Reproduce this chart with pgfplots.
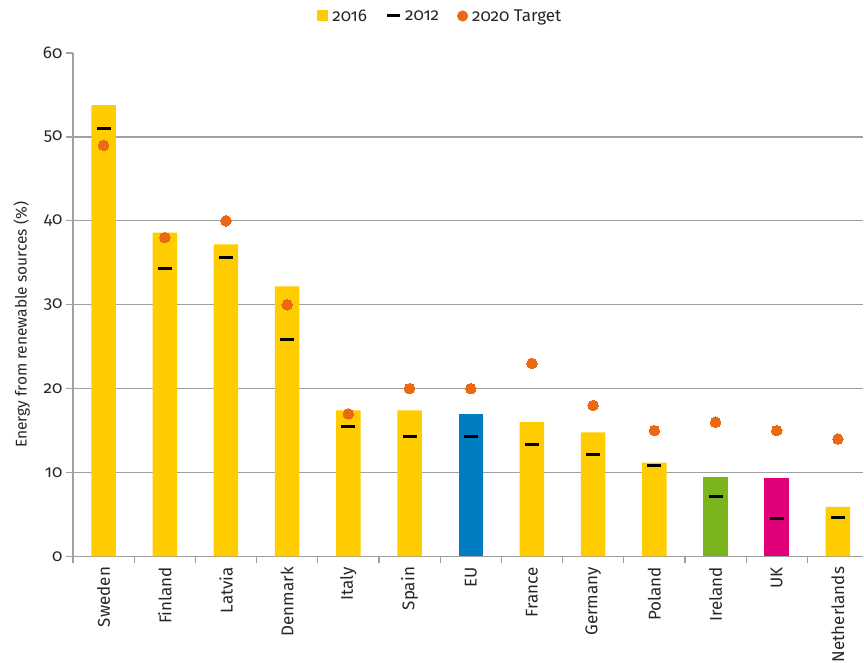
\documentclass[border=0pt]{standalone}
\usepackage{pgfplots}
\pgfplotsset{compat=1.18}
\usepackage{fontspec}
\setmainfont{Fira Sans}[Numbers=OldStyle]
\definecolor{barY}{HTML}{FFCC00}
\definecolor{barEU}{HTML}{007CC3}
\definecolor{barIE}{HTML}{7AB51D}
\definecolor{barUK}{HTML}{E2007A}
\definecolor{tgt}{HTML}{EA6A14}
\definecolor{gridg}{HTML}{A0A0A0}
\definecolor{txt}{HTML}{262626}
\begin{document}
\begin{tikzpicture}
\useasboundingbox (0,0) rectangle (864pt,663pt);
\begin{axis}[
  at={(73pt,106.5pt)}, anchor=south west,
  scale only axis, width=790pt, height=503.5pt,
  xmin=-0.5, xmax=12.41, ymin=0, ymax=60,
  axis x line*=bottom, axis y line*=left,
  axis line style={gridg, line width=1.2pt},
  xtick={0,...,12},
  xticklabels={Sweden,Finland,Latvia,Denmark,Italy,Spain,EU,France,Germany,Poland,Ireland,UK,Netherlands},
  x tick label style={rotate=90, anchor=east, font=\fontsize{17}{19}\selectfont, text=txt},
  major x tick style={draw=none},
  minor xtick={-0.5,0.5,...,12.5},
  minor tick length=7pt,
  minor x tick style={gridg, line width=1.2pt},
  ytick={0,10,...,60},
  extra y ticks={10,20,...,50},
  extra y tick labels={},
  extra y tick style={grid=major, major tick length=0pt},
  major grid style={gridg, line width=1.2pt},
  tick align=outside,
  major tick length=7pt,
  y tick style={gridg, line width=1.2pt},
  y tick label style={font=\fontsize{17}{19}\selectfont, text=txt},
  /pgf/number format/assume math mode=true,
  ylabel={Energy from renewable sources (\%)},
  ylabel style={font=\fontsize{15.5}{17}\selectfont, text=txt, rotate=0, anchor=south,
    at={(axis description cs:-0.05,0.46)}},
  legend style={at={(0.465,1)}, anchor=center, yshift=37pt, draw=none, fill=none,
    font=\fontsize{17}{19}\selectfont, text=txt},
  legend columns=-1,
  /tikz/every even column/.append style={column sep=16pt},
  /tikz/every odd column/.append style={column sep=2pt},
  legend cell align=left,
]
\addplot[ybar, bar width=0.4, bar shift=0, fill=barY, draw=none,
  legend image code/.code={\fill[barY] (0pt,-5pt) rectangle (11pt,6pt);}]
  coordinates {(0,53.8) (1,38.6) (2,37.2) (3,32.2) (4,17.4) (5,17.4) (7,16.0) (8,14.8) (9,11.2) (12,5.9)};
\addlegendentry{2016}
\addplot[ybar, bar width=0.4, bar shift=0, fill=barEU, draw=none, forget plot]
  coordinates {(6,17.0)};
\addplot[ybar, bar width=0.4, bar shift=0, fill=barIE, draw=none, forget plot]
  coordinates {(10,9.5)};
\addplot[ybar, bar width=0.4, bar shift=0, fill=barUK, draw=none, forget plot]
  coordinates {(11,9.4)};
\addplot[only marks, mark=-, mark size=7pt, mark options={black, line width=3pt},
  legend image code/.code={\draw[black, line width=3pt] (0pt,0pt) -- (13pt,0pt);}]
  coordinates {(0,51.0) (1,34.3) (2,35.6) (3,25.8) (4,15.5) (5,14.3) (6,14.3) (7,13.4) (8,12.1) (9,10.9) (10,7.1) (11,4.5) (12,4.6)};
\addlegendentry{2012}
\addplot[only marks, color=tgt, mark=*, mark size=5.3pt, mark options={fill=tgt, draw=tgt, line width=0pt},
  legend image code/.code={\fill[tgt] (5pt,0pt) circle (5.3pt);}]
  coordinates {(0,49) (1,38) (2,40) (3,30) (4,17) (5,20) (6,20) (7,23) (8,18) (9,15) (10,16) (11,15) (12,14)};
\addlegendentry{2020 Target}
\end{axis}
\end{tikzpicture}
\end{document}
